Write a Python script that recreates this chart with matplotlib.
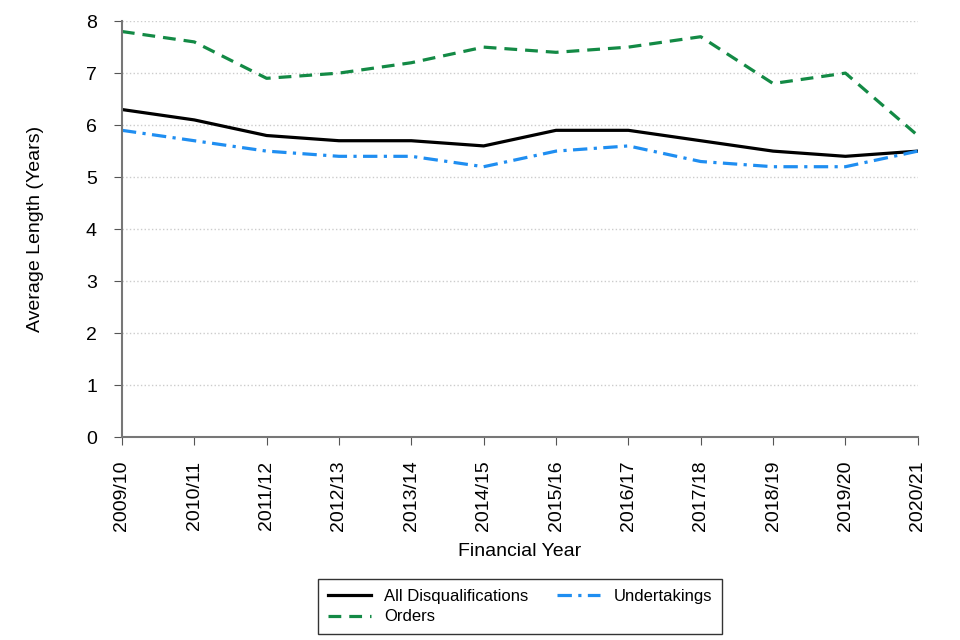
import matplotlib
matplotlib.use("Agg")
import matplotlib.pyplot as plt
import numpy as np

plt.rcParams['font.family'] = ['Liberation Sans', 'DejaVu Sans']

years = ["2009/10", "2010/11", "2011/12", "2012/13", "2013/14", "2014/15",
         "2015/16", "2016/17", "2017/18", "2018/19", "2019/20", "2020/21"]
all_disq = [6.3, 6.1, 5.8, 5.7, 5.7, 5.6, 5.9, 5.9, 5.7, 5.5, 5.4, 5.5]
orders = [7.8, 7.6, 6.9, 7.0, 7.2, 7.5, 7.4, 7.5, 7.7, 6.8, 7.0, 5.8]
undertakings = [5.9, 5.7, 5.5, 5.4, 5.4, 5.2, 5.5, 5.6, 5.3, 5.2, 5.2, 5.5]

fig = plt.figure(figsize=(9.6, 6.4), dpi=100)
ax = fig.add_axes([0.127, 0.317, 0.829, 0.65])

x = np.arange(len(years))
ax.plot(x, all_disq, color='black', lw=2.3, label='All Disqualifications')
ax.plot(x, orders, color='#138a45', lw=2.3, ls=(0, (4, 2.5)), label='Orders')
ax.plot(x, undertakings, color='#1f8ef1', lw=2.3, ls=(0, (4.5, 2, 1, 2)),
        label='Undertakings')

ax.set_xlim(0, len(years) - 1)
ax.set_ylim(0, 8)
ax.set_yticks(range(0, 9))
ax.set_xticks(x)
ax.set_xticklabels(years, rotation=90)
ax.tick_params(labelsize=14, color='#555555', length=6)
ax.tick_params(axis='x', pad=11)
ax.tick_params(axis='y', pad=12)
ax.yaxis.grid(True, ls=':', color='#cccccc', lw=1)
ax.set_axisbelow(True)
for s in ['top', 'right']:
    ax.spines[s].set_visible(False)
ax.spines['left'].set_color('#777777')
ax.spines['bottom'].set_color('#777777')
ax.spines['left'].set_linewidth(1.5)
ax.spines['bottom'].set_linewidth(1.5)

ax.set_ylabel('Average Length (Years)', fontsize=14, labelpad=30)
ax.set_xlabel('Financial Year', fontsize=14, labelpad=8)

handles, labels = ax.get_legend_handles_labels()
leg = fig.legend(handles, labels,
                 loc='center', bbox_to_anchor=(0.5417, 0.0523), ncol=2,
                 fontsize=12, frameon=True, fancybox=False, edgecolor='black',
                 borderpad=0.6, handlelength=2.6, columnspacing=1.7, labelspacing=0.35)
leg.get_frame().set_linewidth(1)

fig.savefig('out.png', dpi=100)
